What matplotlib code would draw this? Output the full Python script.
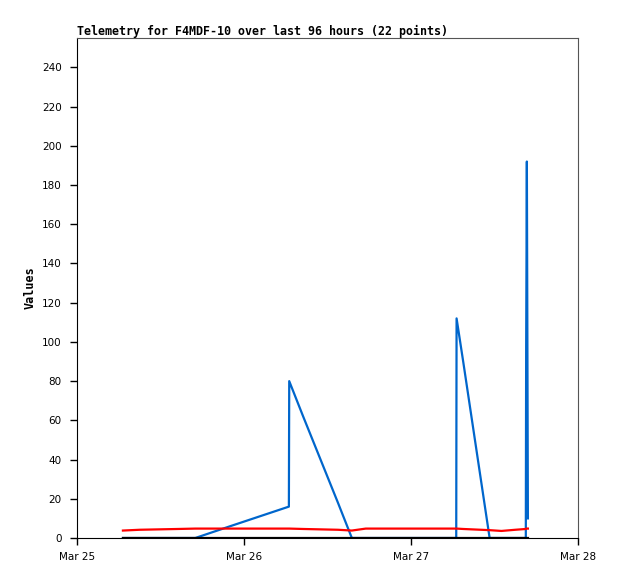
import matplotlib
matplotlib.use('Agg')
import matplotlib.pyplot as plt
import matplotlib.dates as mdates
import numpy as np
from datetime import datetime, timedelta

# hours after Mar 25 00:00 for each of the 22 telemetry points
hours = [6.6, 9.0, 14.5, 17.0, 22.0, 30.45, 30.5, 32.5, 37.5, 39.5, 41.5,
         48.0, 54.5, 54.55, 55.5, 59.3, 61.0, 63.0, 64.5, 64.55, 64.65, 64.8]

ch_blue = [0, 0, 0, 0, 6, 16, 80, 62, 18, 0, 0,
           0, 0, 112, 90, 0, 0, 0, 0, 97, 192, 10]
ch_red = [3.8, 4.2, 4.6, 4.8, 4.8, 4.8, 4.8, 4.6, 4.2, 3.8, 4.8,
          4.8, 4.8, 4.8, 4.6, 4.0, 3.6, 4.2, 4.6, 4.8, 4.8, 4.8]
ch_black = [0] * 22

start = datetime(2024, 3, 25)
times = [start + timedelta(hours=h) for h in hours]

fig = plt.figure(figsize=(6.18, 5.79), dpi=100)
ax = fig.add_axes([77 / 618, 41 / 579, 501 / 618, 500 / 579])

ax.plot(times, ch_blue, color='#0066cc', linewidth=1.6)
ax.plot(times, ch_red, color='#ff0000', linewidth=1.6)
ax.plot(times, ch_black, color='#000000', linewidth=1.6)

ax.set_xlim(start, start + timedelta(days=3))
ax.set_ylim(0, 255)
ax.set_yticks(np.arange(0, 241, 20))
ax.xaxis.set_major_locator(mdates.DayLocator())
ax.xaxis.set_major_formatter(mdates.DateFormatter('%b %d'))

ax.tick_params(direction='out', length=5, width=1, labelsize=7.5)
ax.tick_params(axis='x', pad=5)
ax.tick_params(axis='y', pad=6)
ax.spines['top'].set_color('#555555')
ax.spines['right'].set_color('#555555')

ax.set_ylabel('Values', family='DejaVu Sans Mono', fontweight='bold', fontsize=8.5)
ax.set_title('Telemetry for F4MDF-10 over last 96 hours (22 points)',
             family='DejaVu Sans Mono', fontweight='bold', fontsize=8.4,
             loc='left', pad=2)

fig.savefig('out.png', dpi=100)
